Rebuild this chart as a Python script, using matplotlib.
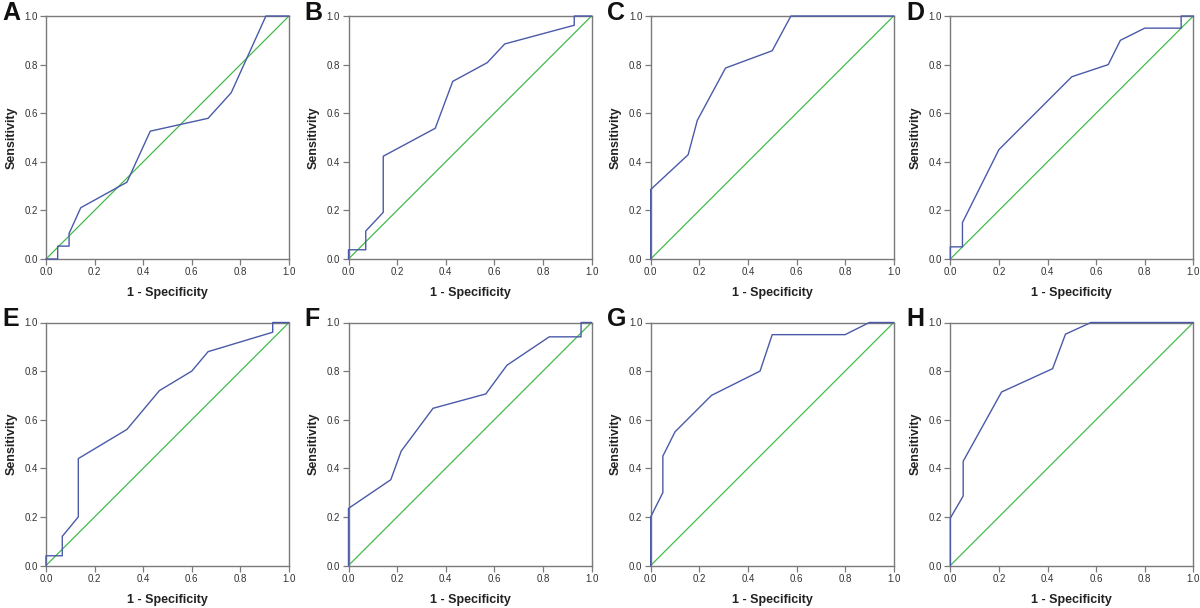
import matplotlib
matplotlib.use("Agg")
import matplotlib.pyplot as plt

plt.rcParams['font.family'] = ['Liberation Sans', 'DejaVu Sans']

panel_labels = ["A", "B", "C", "D", "E", "F", "G", "H"]

fpr_A = [0, 0.048, 0.048, 0.095, 0.095, 0.143, 0.333, 0.429, 0.667, 0.762, 0.905, 1.0]
tpr_A = [0, 0, 0.053, 0.053, 0.105, 0.211, 0.316, 0.526, 0.579, 0.684, 1.0, 1.0]

fpr_B = [0, 0, 0.071, 0.071, 0.143, 0.143, 0.357, 0.429, 0.571, 0.643, 0.929, 0.929, 1.0]
tpr_B = [0, 0.038, 0.038, 0.115, 0.192, 0.423, 0.538, 0.731, 0.808, 0.885, 0.962, 1.0, 1.0]

fpr_C = [0, 0, 0.154, 0.192, 0.308, 0.5, 0.577, 1.0]
tpr_C = [0, 0.286, 0.429, 0.571, 0.786, 0.857, 1.0, 1.0]

fpr_D = [0, 0, 0.05, 0.05, 0.2, 0.5, 0.65, 0.7, 0.8, 0.95, 0.95, 1.0]
tpr_D = [0, 0.05, 0.05, 0.15, 0.45, 0.75, 0.8, 0.9, 0.95, 0.95, 1.0, 1.0]

fpr_E = [0, 0, 0.067, 0.067, 0.133, 0.133, 0.333, 0.467, 0.6, 0.667, 0.933, 0.933, 1.0]
tpr_E = [0, 0.04, 0.04, 0.12, 0.2, 0.44, 0.56, 0.72, 0.8, 0.88, 0.96, 1.0, 1.0]

fpr_F = [0, 0, 0.174, 0.217, 0.348, 0.565, 0.652, 0.826, 0.957, 0.957, 1.0]
tpr_F = [0, 0.235, 0.353, 0.471, 0.647, 0.706, 0.824, 0.941, 0.941, 1.0, 1.0]

fpr_G = [0, 0, 0.05, 0.05, 0.1, 0.25, 0.45, 0.5, 0.8, 0.9, 1.0]
tpr_G = [0, 0.2, 0.3, 0.45, 0.55, 0.7, 0.8, 0.95, 0.95, 1.0, 1.0]

fpr_H = [0, 0, 0.053, 0.053, 0.211, 0.421, 0.474, 0.579, 1.0]
tpr_H = [0, 0.195, 0.286, 0.429, 0.714, 0.81, 0.952, 1.0, 1.0]

curves = [(fpr_A, tpr_A), (fpr_B, tpr_B), (fpr_C, tpr_C), (fpr_D, tpr_D),
          (fpr_E, tpr_E), (fpr_F, tpr_F), (fpr_G, tpr_G), (fpr_H, tpr_H)]

ticks = [0.0, 0.2, 0.4, 0.6, 0.8, 1.0]
tick_labels = ["0.0", "0.2", "0.4", "0.6", "0.8", "1.0"]

W, H = 1200, 608
fig = plt.figure(figsize=(W / 100, H / 100), dpi=100)

lefts = [46, 348.5, 650.7, 950.3]
tops = [16, 322.5]
size = 243

blue = "#4a5aa8"
green = "#43bb4c"
spine_col = "#7a7a7a"

for i, (fx, ty) in enumerate(curves):
    r, c = divmod(i, 4)
    lx = lefts[c]
    tp = tops[r]
    ax = fig.add_axes([lx / W, 1 - (tp + size) / H, size / W, size / H])
    ax.plot([0, 1], [0, 1], color=green, lw=0.9, zorder=2)
    ax.plot(fx, ty, color=blue, lw=1.0, zorder=3, clip_on=False)
    ax.set_xlim(0, 1)
    ax.set_ylim(0, 1)
    ax.set_xticks(ticks)
    ax.set_xticklabels(tick_labels)
    ax.set_yticks(ticks)
    ax.set_yticklabels(tick_labels)
    ax.tick_params(direction='out', length=4, width=0.9, color=spine_col,
                   labelsize=7, labelcolor="#333333", pad=2)
    for s in ax.spines.values():
        s.set_color(spine_col)
        s.set_linewidth(1.0)
    ax.set_xlabel("1 - Specificity", fontsize=9, fontweight='bold', labelpad=7, color="#222222")
    ax.set_ylabel("Sensitivity", fontsize=9, fontweight='bold', labelpad=5, color="#222222")
    fig.text((lx - 44) / W, 1 - (tp - 3.5) / H, panel_labels[i], fontsize=18,
             fontweight='bold', ha='left', va='center', color="#111111")

fig.savefig("out.png", dpi=100)
